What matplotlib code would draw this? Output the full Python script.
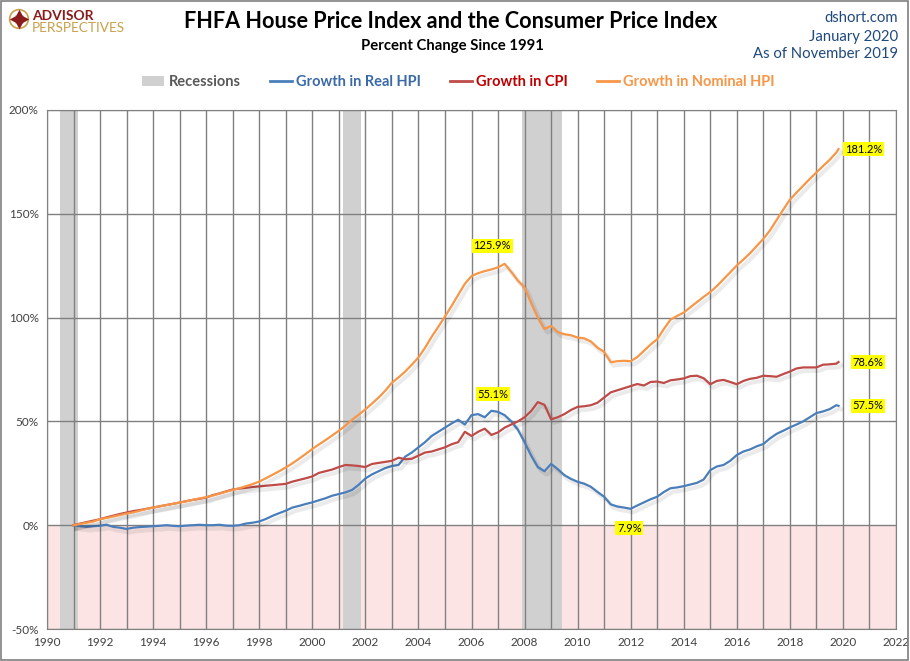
import numpy as np
import matplotlib
matplotlib.use("Agg")
import matplotlib.pyplot as plt
import matplotlib.patheffects as pe
from matplotlib.patches import Patch, Rectangle, Circle
from matplotlib.lines import Line2D

plt.rcParams['font.family'] = ['Lato', 'DejaVu Sans']

# ---- data (percent change since Jan 1991), quarterly, last point Nov 2019 ----
dates = list(np.arange(1991, 2020, 0.25)) + [2019 + 10 / 12]

nominal_hpi = [
    0.0, 0.6, 1.2, 1.8, 2.9, 3.5, 4.2, 4.9, 5.6, 6.2, 7.0, 7.8,
    8.5, 9.1, 9.7, 10.3, 10.9, 11.5, 12.2, 12.9, 13.5, 14.3, 15.2, 16.1,
    17.0, 17.8, 18.8, 19.8, 21.0, 22.6, 24.3, 26.0, 27.8, 29.8, 32.0, 34.3,
    36.7, 38.9, 41.0, 43.2, 45.5, 48.0, 50.8, 53.2, 55.8, 58.6, 61.5, 64.8,
    68.6, 71.2, 74.0, 77.3, 80.8, 85.5, 90.8, 95.6, 100.5, 105.6, 111.0, 116.3,
    120.0, 121.4, 122.4, 123.2, 124.2, 125.9, 122.0, 117.8, 114.5, 107.0, 100.0, 94.5,
    96.0, 93.0, 92.0, 91.5, 90.4, 90.0, 88.5, 85.5, 83.5, 78.5, 79.0, 79.2,
    79.0, 81.0, 84.0, 87.0, 89.6, 94.5, 99.0, 100.8, 102.4, 105.0, 107.5, 110.0,
    112.3, 115.2, 118.5, 121.8, 125.1, 128.0, 131.0, 134.5, 137.9, 142.0, 147.0, 152.0,
    156.8, 160.2, 163.5, 166.8, 169.9, 173.0, 176.0, 179.5, 181.2,
]

cpi = [
    0.0, 0.8, 1.5, 2.2, 2.9, 3.8, 4.6, 5.4, 6.1, 6.8, 7.3, 7.9,
    8.5, 9.1, 9.7, 10.3, 10.9, 11.6, 12.2, 12.7, 13.3, 14.5, 15.3, 16.3,
    17.2, 17.6, 18.0, 18.4, 18.7, 19.0, 19.3, 19.6, 19.9, 21.0, 21.8, 22.6,
    23.5, 25.2, 26.0, 26.8, 28.0, 29.0, 28.8, 28.5, 28.0, 29.5, 30.0, 30.5,
    31.0, 32.5, 31.8, 32.0, 33.5, 35.0, 35.5, 36.5, 37.5, 39.0, 40.0, 45.0,
    43.0, 45.0, 46.5, 43.5, 44.7, 47.0, 48.5, 50.0, 52.0, 55.0, 59.3, 58.0,
    51.0, 52.0, 53.5, 55.5, 57.0, 57.3, 57.8, 59.0, 61.5, 64.0, 65.0, 66.0,
    67.0, 68.0, 67.3, 69.0, 69.2, 68.5, 69.8, 70.2, 70.7, 71.8, 72.0, 70.8,
    67.9, 69.5, 70.0, 69.0, 67.9, 69.5, 70.5, 71.0, 72.0, 71.8, 71.5, 72.8,
    74.0, 75.5, 76.0, 76.0, 76.0, 77.3, 77.5, 77.8, 78.6,
]

real_hpi = [
    0.0, -0.5, -0.8, -0.5, -0.3, 0.2, -0.8, -1.2, -1.8, -1.2, -0.9, -0.7,
    -0.5, -0.3, 0.0, -0.3, -0.5, -0.2, 0.0, 0.2, 0.0, 0.0, 0.2, -0.2,
    -0.3, 0.0, 0.8, 1.2, 1.8, 3.0, 4.5, 5.8, 7.0, 8.5, 9.3, 10.2,
    11.0, 12.0, 13.0, 14.2, 15.0, 15.8, 17.0, 19.5, 22.5, 24.5, 26.0, 27.5,
    28.5, 29.0, 33.0, 35.0, 37.5, 40.0, 43.0, 45.0, 47.0, 49.0, 50.8, 48.5,
    53.0, 53.5, 52.0, 55.1, 54.6, 53.0, 50.0, 46.0, 40.0, 33.5, 28.0, 26.0,
    29.5, 27.0, 24.1, 22.3, 20.9, 20.0, 18.5, 16.0, 13.7, 10.0, 9.0, 8.5,
    7.9, 9.5, 11.0, 12.5, 13.7, 16.0, 17.8, 18.2, 18.8, 19.6, 20.4, 22.0,
    26.5, 28.3, 29.0, 31.0, 33.8, 35.5, 36.5, 38.0, 39.1, 41.8, 44.0, 45.5,
    47.1, 48.5, 50.0, 52.0, 54.0, 54.8, 55.9, 57.8, 57.5,
]

recession_starts = [1990.5, 2001.17, 2007.92]
recession_ends = [1991.17, 2001.83, 2009.42]

year_ticks = list(range(1990, 2023, 2))
pct_ticks = [-50, 0, 50, 100, 150, 200]

# ---- styling ----
BLUE = '#4a7ebb'
RED = '#be4b48'
ORANGE = '#f79646'
GRID = '#808080'
TXT = '#404040'

fig = plt.figure(figsize=(9.1, 6.61), dpi=100)
ax = fig.add_axes([47 / 910, 1 - 629 / 661, (896 - 47) / 910, (629 - 110) / 661])

ax.set_xlim(1990, 2022)
ax.set_ylim(-50, 200)

# pink negative region
ax.axhspan(-50, 0, color='#fde4e4', zorder=0, lw=0)

# recessions
for s, e in zip(recession_starts, recession_ends):
    ax.axvspan(s, e, color='#d0d0d0', zorder=1, lw=0)

# grid
ax.set_xticks(range(1990, 2023), minor=True)
ax.set_xticks(year_ticks)
ax.set_yticks(pct_ticks)
ax.grid(True, which='both', axis='x', color=GRID, lw=1, zorder=2)
ax.grid(True, which='major', axis='y', color=GRID, lw=1, zorder=2)
ax.set_axisbelow(False)
for sp in ax.spines.values():
    sp.set_color(GRID)
ax.tick_params(which='both', length=0, colors=TXT, labelsize=8.5, pad=6)
ax.set_xticklabels([str(y) for y in year_ticks])
ax.set_yticklabels([f'{p}%' for p in pct_ticks])

shadow = [pe.SimpleLineShadow(offset=(2, -2.5), shadow_color='black', alpha=0.08,
                              linewidth=3.0),
          pe.Normal()]
ax.plot(dates, real_hpi, color=BLUE, lw=1.6, zorder=5, path_effects=shadow)
ax.plot(dates, cpi, color=RED, lw=1.6, zorder=5, path_effects=shadow)
ax.plot(dates, nominal_hpi, color=ORANGE, lw=1.6, zorder=5, path_effects=shadow)

# annotations
def tag(x, y, text, dx, dy):
    ax.annotate(text, xy=(x, y), xytext=(dx, dy), textcoords='offset points',
                ha='center', va='center', fontsize=8, color='black', zorder=7,
                bbox=dict(boxstyle='square,pad=0.15', fc='#ffff00', ec='none'))

tag(dates[-1], nominal_hpi[-1], f'{nominal_hpi[-1]:.1f}%', 18, 0)
tag(dates[-1], cpi[-1], f'{cpi[-1]:.1f}%', 21, 0)
tag(dates[-1], real_hpi[-1], f'{real_hpi[-1]:.1f}%', 21, 0)
i_nom = int(np.argmax(nominal_hpi[:80]))
tag(dates[i_nom], nominal_hpi[i_nom], f'{nominal_hpi[i_nom]:.1f}%', -9, 13)
i_real = int(np.argmax(real_hpi[:80]))
tag(dates[i_real], real_hpi[i_real], f'{real_hpi[i_real]:.1f}%', 1, 12)
i_min = int(np.argmin(real_hpi[60:100])) + 60
tag(dates[i_min], real_hpi[i_min], f'{real_hpi[i_min]:.1f}%', -1, -14)

# titles
fig.text(0.495, 1 - 21 / 661, 'FHFA House Price Index and the Consumer Price Index',
         ha='center', va='center', fontsize=15.6, fontweight='bold', color='black')
fig.text(0.497, 1 - 46 / 661, 'Percent Change Since 1991',
         ha='center', va='center', fontsize=10.7, fontweight='bold', color='black')

for yy, t in [(18, 'dshort.com'), (37, 'January 2020'), (54, 'As of November 2019')]:
    fig.text(898 / 910, 1 - yy / 661, t, ha='right', va='center', fontsize=10.7,
             color='#1f497d')

# logo
fig.text(32 / 910, 1 - 16 / 661, 'ADVISOR', ha='left', va='center', fontsize=10,
         fontweight='bold', color='#8b1a1a')
fig.text(32 / 910, 1 - 27.5 / 661, 'PERSPECTIVES', ha='left', va='center', fontsize=9.8,
         color='#c8a04a')
lax = fig.add_axes([7 / 910, 1 - 31 / 661, 24 / 910, 24 / 661])
lax.set_xlim(-1, 1)
lax.set_ylim(-1, 1)
lax.set_aspect('equal')
lax.axis('off')
lax.add_patch(Circle((0, 0), 0.78, fill=False, ec='#c8a04a', lw=1.2))
lax.plot([0], [0], marker=(4, 1, 0), ms=14, color='#8b1a1a', mec='none')
lax.plot([0], [0], marker=(4, 1, 45), ms=8, color='#8b1a1a', mec='none')

# legend
handles = [Patch(facecolor='#d0d0d0', edgecolor='none'),
           Line2D([0], [0], color=BLUE, lw=2),
           Line2D([0], [0], color=RED, lw=2),
           Line2D([0], [0], color=ORANGE, lw=2)]
labels = ['Recessions', 'Growth in Real HPI', 'Growth in CPI', 'Growth in Nominal HPI']
leg = fig.legend(handles, labels, loc='center', bbox_to_anchor=(0.504, 1 - 82 / 661),
                 ncol=4, frameon=False, fontsize=10.5, handlelength=1.5,
                 handletextpad=0.3, columnspacing=2.0)
for txt, c in zip(leg.get_texts(), ['#595959', '#3a6aa8', '#c00000', ORANGE]):
    txt.set_color(c)
    txt.set_fontweight('bold')

# outer border
fig.patches.append(Rectangle((0.001, 0.001), 0.997, 0.997, transform=fig.transFigure,
                             fill=False, ec='#7f7f7f', lw=1.2))

fig.savefig('out.png', dpi=100)
